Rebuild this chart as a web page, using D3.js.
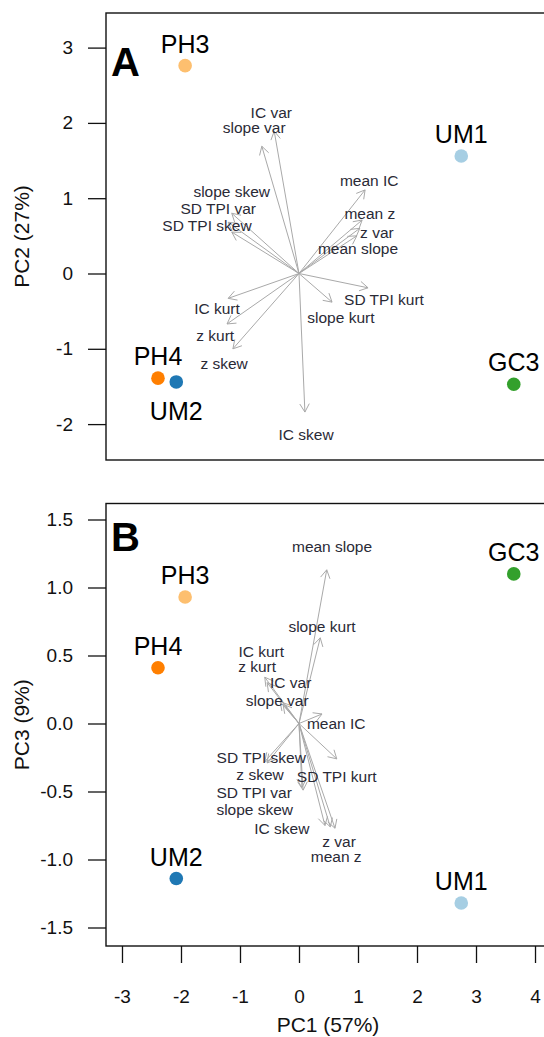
<!DOCTYPE html>
<html>
<head>
<meta charset="utf-8">
<script src="https://cdn.jsdelivr.net/npm/d3@7"></script>
<style>
  html, body { margin: 0; padding: 0; background: #fff; }
  svg { display: block; font-family: "Liberation Sans", Arial, sans-serif; }
</style>
</head>
<body>
<svg id="chart" width="544" height="1037"></svg>
<script>
// PCA sample scores
const samples = ["PH3", "UM1", "PH4", "UM2", "GC3"];
const pc1 = [-1.93, 2.75, -2.39, -2.08, 3.64];
const pc2 = [2.76, 1.56, -1.39, -1.44, -1.47];
const pc3 = [0.93, -1.32, 0.41, -1.14, 1.10];

// Variable loadings: arrow tips and label anchors, panel A (PC1 vs PC2)
const variablesA = ["IC var", "slope var", "slope skew", "SD TPI var", "SD TPI skew",
  "mean IC", "mean z", "z var", "mean slope", "SD TPI kurt", "slope kurt",
  "IC kurt", "z kurt", "z skew", "IC skew"];
const tipXA = [-0.42, -0.63, -1.14, -1.20, -1.14, 1.12, 1.07, 1.03, 0.98, 1.17, 0.56, -1.20, -1.22, -1.12, 0.10];
const tipYA = [1.89, 1.69, 0.80, 0.68, 0.55, 1.11, 0.71, 0.60, 0.50, -0.19, -0.38, -0.33, -0.67, -1.00, -1.84];
const labXA = [-0.47, -0.76, -1.14, -1.37, -1.56, 1.19, 1.20, 1.32, 1.00, 1.44, 0.71, -1.39, -1.42, -1.27, 0.12];
const labYA = [2.14, 1.94, 1.09, 0.86, 0.63, 1.23, 0.80, 0.54, 0.33, -0.35, -0.58, -0.46, -0.83, -1.19, -2.14];

// Variable loadings, panel B (PC1 vs PC3)
const variablesB = ["mean slope", "slope kurt", "IC kurt", "z kurt", "IC var", "slope var",
  "mean IC", "SD TPI skew", "z skew", "SD TPI kurt", "SD TPI var", "slope skew",
  "IC skew", "z var", "mean z"];
const tipXB = [0.47, 0.36, -0.58, -0.54, -0.32, -0.27, 0.39, -0.58, -0.54, 0.64, 0.07, 0.05, 0.44, 0.61, 0.53];
const tipYB = [1.13, 0.63, 0.34, 0.30, 0.16, 0.14, 0.07, -0.28, -0.29, -0.26, -0.49, -0.47, -0.75, -0.77, -0.76];
const labXB = [0.56, 0.39, -0.64, -0.71, -0.14, -0.37, 0.63, -0.64, -0.66, 0.64, -0.76, -0.75, -0.29, 0.68, 0.63];
const labYB = [1.30, 0.71, 0.53, 0.42, 0.30, 0.17, 0.00, -0.25, -0.375, -0.39, -0.505, -0.635, -0.77, -0.87, -0.98];

// Axis ticks and titles
const xTicks = [-3, -2, -1, 0, 1, 2, 3, 4];
const yTicksA = [-2, -1, 0, 1, 2, 3];
const yTicksB = [-1.5, -1.0, -0.5, 0.0, 0.5, 1.0, 1.5];
const xTitle = "PC1 (57%)";
const yTitleA = "PC2 (27%)";
const yTitleB = "PC3 (9%)";

const sampleColor = {
  PH3: "#fdbf6f", UM1: "#a6cee3", PH4: "#ff7f00", UM2: "#1f78b4", GC3: "#33a02c"
};

// tick labels with a plain hyphen-minus
const hyphen = f => d => f(d).replace("\u2212", "-");

const svg = d3.select("#chart");

// Shared horizontal scale (plot box spans 106..550 px)
const x = d3.scaleLinear().domain([-3.271, 4.254]).range([106, 550]);

function panel(opts) {
  const y = d3.scaleLinear().domain(opts.yDomain).range([opts.bottom, opts.top]);
  const g = svg.append("g");

  // y axis ticks
  const yAxis = d3.axisLeft(y).tickValues(opts.yTicks).tickSize(18).tickPadding(15)
    .tickFormat(hyphen(opts.yFormat));
  const ya = g.append("g").attr("transform", "translate(106,0)").call(yAxis);
  ya.select(".domain").remove();
  ya.selectAll("line").attr("stroke", "#111").attr("stroke-width", 1.3);
  ya.selectAll("text").attr("font-size", 19).attr("fill", "#111")
    .attr("font-family", "Liberation Sans, Arial, sans-serif");

  // y axis title
  g.append("text")
    .attr("transform", `translate(29,${(opts.top + opts.bottom) / 2}) rotate(-90)`)
    .attr("text-anchor", "middle").attr("font-size", 21).attr("fill", "#111")
    .text(opts.yTitle);

  // loading arrows
  const ox = x(0), oy = y(0);
  const head = 9.5, ang = Math.PI / 6;
  const arrows = g.append("g").attr("stroke", "#a9a9a9").attr("stroke-width", 1).attr("fill", "none");
  opts.vars.forEach((v, i) => {
    const tx = x(opts.tipX[i]), ty = y(opts.tipY[i]);
    arrows.append("line").attr("x1", ox).attr("y1", oy).attr("x2", tx).attr("y2", ty);
    const a = Math.atan2(ty - oy, tx - ox);
    [a + Math.PI - ang, a + Math.PI + ang].forEach(b => {
      arrows.append("line").attr("x1", tx).attr("y1", ty)
        .attr("x2", tx + head * Math.cos(b)).attr("y2", ty + head * Math.sin(b));
    });
  });

  // loading labels
  g.append("g").selectAll("text").data(opts.vars).join("text")
    .attr("x", (d, i) => x(opts.labX[i]))
    .attr("y", (d, i) => y(opts.labY[i]))
    .attr("dy", "0.35em")
    .attr("text-anchor", "middle")
    .attr("font-size", 15.5)
    .attr("fill", "#2a2a36")
    .text(d => d);

  // sample points
  const pts = samples.map((s, i) => ({ name: s, px: pc1[i], py: opts.scores[i] }));
  g.append("g").selectAll("circle").data(pts).join("circle")
    .attr("cx", d => x(d.px)).attr("cy", d => y(d.py)).attr("r", 6.8)
    .attr("fill", d => sampleColor[d.name]);

  g.append("g").selectAll("text").data(pts).join("text")
    .attr("x", d => x(d.px))
    .attr("y", d => y(d.py) + (opts.below.includes(d.name) ? 38 : -13))
    .attr("text-anchor", "middle").attr("font-size", 25).attr("fill", "#000")
    .text(d => d.name);

  // plot frame
  g.append("rect").attr("x", 106).attr("y", opts.top)
    .attr("width", 444).attr("height", opts.bottom - opts.top)
    .attr("fill", "none").attr("stroke", "#111").attr("stroke-width", 1.4);

  // panel letter
  g.append("text").attr("x", 111).attr("y", opts.top + opts.letterDy)
    .attr("font-size", 40).attr("font-weight", "bold").attr("fill", "#000")
    .text(opts.letter);

  return y;
}

panel({
  top: 13, bottom: 460,
  yDomain: [(273.5 - 460) / 75.3, (273.5 - 13) / 75.3],
  yTicks: yTicksA, yFormat: d3.format("d"), yTitle: yTitleA,
  vars: variablesA, tipX: tipXA, tipY: tipYA, labX: labXA, labY: labYA,
  scores: pc2, below: ["UM2"], letter: "A", letterDy: 63
});

panel({
  top: 503.5, bottom: 946,
  yDomain: [(723.5 - 946) / 136, (723.5 - 503.5) / 136],
  yTicks: yTicksB, yFormat: d3.format(".1f"), yTitle: yTitleB,
  vars: variablesB, tipX: tipXB, tipY: tipYB, labX: labXB, labY: labYB,
  scores: pc3, below: [], letter: "B", letterDy: 47
});

// shared x axis along the bottom panel
const xAxis = d3.axisBottom(x).tickValues(xTicks).tickSize(17).tickPadding(27)
  .tickFormat(hyphen(d3.format("d")));
const xa = svg.append("g").attr("transform", "translate(0,946)").call(xAxis);
xa.select(".domain").remove();
xa.selectAll("line").attr("stroke", "#111").attr("stroke-width", 1.3);
xa.selectAll("text").attr("font-size", 19).attr("fill", "#111")
  .attr("font-family", "Liberation Sans, Arial, sans-serif");

svg.append("text").attr("x", 328).attr("y", 1032).attr("text-anchor", "middle")
  .attr("font-size", 21).attr("fill", "#111").text(xTitle);
</script>
</body>
</html>
